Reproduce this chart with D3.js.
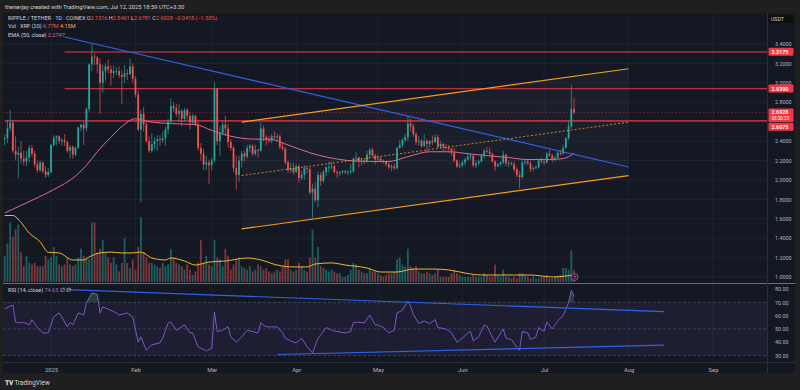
<!DOCTYPE html>
<html>
<head>
<meta charset="utf-8">
<script src="https://cdn.jsdelivr.net/npm/d3@7"></script>
<style>
  html, body { margin: 0; padding: 0; background: #1f1f1f; }
  svg { display: block; font-family: Roboto, "Liberation Sans", sans-serif; }
</style>
</head>
<body>
<svg id="chart" width="800" height="390"></svg>
<script>
// daily candles, XRP/USDT, first candle 2024-12-14
const startDay = "2024-12-14";

const opens = [
  2.40,2.42,2.43,2.53,2.59,2.30,2.26,2.28,2.22,2.19,2.23,2.33,2.27,2.16,2.10,2.18,2.09,2.05,
  2.08,2.36,2.43,2.45,2.40,2.41,2.39,2.30,2.34,2.26,2.33,2.54,2.57,2.53,2.73,3.19,3.27,3.26,3.19,3.00,3.12,3.17,3.14,3.10,3.12,3.12,3.08,3.06,3.10,3.09,3.17,
  3.04,2.88,2.52,2.68,2.57,2.40,2.30,2.37,2.40,2.42,2.41,2.43,2.52,2.60,2.76,2.74,2.68,2.71,2.63,2.72,2.66,2.59,2.66,2.57,2.33,2.27,2.16,2.18,
  2.15,2.20,2.94,2.40,2.48,2.57,2.53,2.39,2.33,2.12,2.05,2.20,2.27,2.24,2.33,2.35,2.27,2.31,2.30,2.53,2.44,2.41,2.40,2.45,2.44,2.45,2.34,2.32,2.18,2.10,2.12,
  2.08,2.14,2.02,2.05,2.12,2.11,1.87,1.91,1.79,2.05,1.99,2.08,2.13,2.13,2.14,2.08,2.07,2.08,2.09,2.08,2.08,2.09,2.22,2.23,2.19,2.20,2.19,2.26,2.31,2.25,
  2.21,2.22,2.20,2.19,2.16,2.13,2.14,2.12,2.33,2.36,2.41,2.44,2.58,2.55,2.47,2.39,2.40,2.35,2.40,2.37,2.40,2.39,2.44,2.34,2.37,2.34,2.33,2.32,2.28,2.20,2.14,
  2.15,2.18,2.21,2.24,2.25,2.15,2.17,2.19,2.25,2.30,2.29,2.27,2.19,2.14,2.16,2.18,2.26,2.17,2.17,2.16,2.11,2.05,2.03,2.18,2.19,2.17,2.11,2.12,2.13,2.20,
  2.19,2.18,2.27,2.25,2.21,2.23,2.28,2.27,2.33,2.43,2.55,2.7316
];
const highs = [
  2.47,2.47,2.62,2.72,2.62,2.45,2.34,2.40,2.30,2.30,2.36,2.36,2.30,2.20,2.20,2.19,2.14,2.12,
  2.37,2.46,2.46,2.46,2.43,2.47,2.40,2.36,2.36,2.35,2.55,2.58,2.60,2.75,3.20,3.40,3.30,3.28,3.25,3.19,3.20,3.24,3.18,3.18,3.16,3.17,3.13,3.18,3.14,3.25,3.20,
  3.07,2.92,2.72,2.75,2.60,2.45,2.48,2.44,2.46,2.46,2.50,2.55,2.63,2.84,2.80,2.78,2.78,2.73,2.74,2.74,2.70,2.68,2.67,2.60,2.38,2.32,2.25,2.21,
  2.23,3.01,2.95,2.55,2.60,2.66,2.58,2.42,2.35,2.25,2.25,2.30,2.30,2.36,2.37,2.37,2.36,2.32,2.59,2.56,2.46,2.45,2.47,2.50,2.48,2.47,2.39,2.34,2.20,2.18,2.18,
  2.16,2.16,2.09,2.15,2.14,2.13,1.96,1.98,2.08,2.08,2.10,2.14,2.19,2.19,2.16,2.10,2.09,2.10,2.10,2.10,2.16,2.23,2.29,2.24,2.23,2.22,2.30,2.33,2.33,2.27,
  2.25,2.24,2.21,2.20,2.18,2.16,2.17,2.34,2.41,2.43,2.48,2.66,2.63,2.58,2.49,2.45,2.42,2.47,2.42,2.41,2.46,2.47,2.47,2.40,2.38,2.37,2.36,2.33,2.33,2.21,2.18,
  2.20,2.23,2.28,2.27,2.26,2.20,2.21,2.27,2.32,2.34,2.33,2.28,2.20,2.18,2.19,2.30,2.27,2.20,2.19,2.19,2.13,2.09,2.20,2.21,2.21,2.19,2.14,2.15,2.22,2.23,
  2.21,2.29,2.31,2.27,2.25,2.30,2.31,2.36,2.44,2.61,2.98,2.8461
];
const lows = [
  2.33,2.36,2.38,2.50,2.28,2.20,2.02,2.17,2.15,2.14,2.18,2.24,2.13,2.07,2.08,2.07,2.02,2.03,
  2.07,2.34,2.36,2.37,2.35,2.35,2.28,2.22,2.22,2.24,2.32,2.50,2.36,2.50,2.70,3.12,3.18,3.10,2.68,2.90,3.02,3.10,2.97,3.05,3.08,3.05,2.78,3.00,3.03,3.08,3.00,
  2.85,2.50,1.77,2.50,2.38,2.28,2.28,2.32,2.30,2.35,2.38,2.35,2.47,2.58,2.70,2.65,2.60,2.55,2.60,2.62,2.52,2.57,2.55,2.30,2.20,2.10,2.10,1.96,
  2.10,2.18,2.36,2.25,2.46,2.46,2.33,2.30,2.08,1.90,1.98,2.13,2.19,2.22,2.29,2.25,2.25,2.23,2.29,2.40,2.36,2.38,2.38,2.42,2.40,2.32,2.30,2.16,2.07,2.07,2.05,
  2.07,1.97,2.00,2.00,2.07,1.85,1.61,1.77,1.72,1.94,1.97,2.04,2.08,2.11,2.07,2.02,2.04,2.06,2.06,2.05,2.06,2.07,2.18,2.13,2.15,2.16,2.18,2.22,2.24,2.16,
  2.19,2.18,2.17,2.14,2.11,2.09,2.10,2.11,2.32,2.33,2.39,2.40,2.50,2.44,2.36,2.35,2.33,2.34,2.28,2.33,2.36,2.38,2.33,2.32,2.29,2.30,2.28,2.25,2.18,2.12,2.12,
  2.13,2.15,2.20,2.21,2.13,2.12,2.15,2.18,2.22,2.27,2.25,2.18,2.09,2.13,2.14,2.16,2.14,2.13,2.15,2.08,2.03,1.91,2.01,2.15,2.15,2.08,2.09,2.11,2.12,2.17,
  2.15,2.17,2.24,2.18,2.19,2.22,2.25,2.26,2.32,2.41,2.53,2.6781
];
const closes = [
  2.42,2.43,2.53,2.59,2.30,2.26,2.28,2.22,2.19,2.23,2.33,2.27,2.16,2.10,2.18,2.09,2.05,2.08,
  2.36,2.43,2.45,2.40,2.41,2.39,2.30,2.34,2.26,2.33,2.54,2.57,2.53,2.73,3.19,3.27,3.26,3.19,3.00,3.12,3.17,3.14,3.10,3.12,3.12,3.08,3.06,3.10,3.09,3.17,3.04,
  2.88,2.52,2.68,2.57,2.40,2.30,2.37,2.40,2.42,2.41,2.43,2.52,2.60,2.76,2.74,2.68,2.71,2.63,2.72,2.66,2.59,2.66,2.57,2.33,2.27,2.16,2.18,2.15,
  2.20,2.94,2.40,2.48,2.57,2.53,2.39,2.33,2.12,2.05,2.20,2.27,2.24,2.33,2.35,2.27,2.31,2.30,2.53,2.44,2.41,2.40,2.45,2.44,2.45,2.34,2.32,2.18,2.10,2.12,2.08,
  2.14,2.02,2.05,2.12,2.11,1.87,1.91,1.79,2.05,1.99,2.08,2.13,2.13,2.14,2.08,2.07,2.08,2.09,2.08,2.08,2.09,2.22,2.23,2.19,2.20,2.19,2.26,2.31,2.25,2.21,
  2.22,2.20,2.19,2.16,2.13,2.14,2.12,2.33,2.36,2.41,2.44,2.58,2.55,2.47,2.39,2.40,2.35,2.40,2.37,2.40,2.39,2.44,2.34,2.37,2.34,2.33,2.32,2.28,2.20,2.14,2.15,
  2.18,2.21,2.24,2.25,2.15,2.17,2.19,2.25,2.30,2.29,2.27,2.19,2.14,2.16,2.18,2.26,2.17,2.17,2.16,2.11,2.05,2.03,2.18,2.19,2.17,2.11,2.12,2.13,2.20,2.19,
  2.18,2.27,2.25,2.21,2.23,2.28,2.27,2.33,2.43,2.55,2.7316,2.6928
];
// volume, millions of XRP
const volumes = [
  15,15,22,34,26,30,33,17,9,15,11,10,11,9,9,9,15,13,
  14,20,15,10,9,10,14,10,9,10,14,19,15,14,13,34,34,17,19,24,17,14,11,14,10,6,11,25,11,8,13,
  7,20,37,17,14,11,11,10,9,8,11,9,10,19,14,11,10,9,7,10,7,4,6,11,24,11,15,10,
  9,24,14,13,9,19,15,7,10,13,14,9,8,7,9,6,7,10,9,7,8,6,5,6,7,6,9,13,13,7,6,
  7,11,9,7,6,14,30,14,20,9,8,7,6,7,6,5,5,3,3,4,7,11,10,7,6,5,5,8,6,6,
  5,4,3,4,5,5,6,13,14,10,9,19,9,8,9,6,5,5,6,5,4,5,7,3,3,3,3,5,7,5,4,
  3,3,3,3,4,3,3,3,5,4,3,3,10,4,3,7,3,3,2,3,2,5,5,4,3,2,3,2,2,3,
  3,4,2,2,3,3,4,8,8,7,18,6.77
];

const emaDates = ["2024-12-15","2024-12-25","2025-01-02","2025-01-10","2025-01-14","2025-01-18","2025-01-23","2025-01-27",
  "2025-02-01","2025-02-06","2025-02-14","2025-02-23","2025-03-01","2025-03-08","2025-03-17","2025-03-22","2025-03-29",
  "2025-04-06","2025-04-13","2025-04-20","2025-04-28","2025-05-05","2025-05-12","2025-05-20","2025-05-27","2025-06-03",
  "2025-06-10","2025-06-18","2025-06-25","2025-07-03","2025-07-08","2025-07-12"];
const emaValues = [1.66,1.79,1.90,2.04,2.15,2.29,2.44,2.55,2.63,2.60,2.58,2.57,2.51,2.45,2.42,2.42,2.36,
  2.28,2.23,2.20,2.19,2.19,2.24,2.29,2.29,2.27,2.25,2.23,2.21,2.21,2.22,2.2747];

const volMaDates = ["2024-12-15","2024-12-18","2024-12-21","2024-12-24","2024-12-28","2024-12-31","2025-01-04","2025-01-09",
  "2025-01-13","2025-01-15","2025-01-19","2025-01-23","2025-01-27","2025-01-31","2025-02-03","2025-02-07","2025-02-12",
  "2025-02-14","2025-02-19","2025-02-23","2025-02-28","2025-03-06","2025-03-14","2025-03-19","2025-03-25","2025-03-31",
  "2025-04-05","2025-04-08","2025-04-14","2025-04-19","2025-04-27","2025-05-02","2025-05-08","2025-05-14","2025-05-21",
  "2025-05-27","2025-06-02","2025-06-08","2025-06-14","2025-06-20","2025-06-26","2025-07-04","2025-07-09","2025-07-12"];
const volMaValues = [38,38,34,28,23,17,16.6,12.6,12.6,14.3,16.6,17.1,16.6,16.6,17.1,13.7,12.6,
  13.7,12,9.7,11.4,12,13.7,12.6,9.7,8.6,8.6,10.3,10.9,9.7,8,5.7,5.7,7.4,7.4,
  6.9,5.1,4,4,4,4,2.9,3.4,4.15];

const rsiDates = ["2024-12-15","2024-12-18","2024-12-19","2024-12-21","2024-12-22","2024-12-24","2024-12-25","2024-12-27","2024-12-29","2024-12-31",
  "2025-01-02","2025-01-04","2025-01-05","2025-01-07","2025-01-08","2025-01-09","2025-01-11","2025-01-13","2025-01-14","2025-01-16","2025-01-18",
  "2025-01-19","2025-01-20","2025-01-23","2025-01-25","2025-01-26","2025-01-29","2025-01-31","2025-02-02","2025-02-03","2025-02-05","2025-02-07",
  "2025-02-10","2025-02-11","2025-02-13","2025-02-14","2025-02-16","2025-02-19","2025-02-21","2025-02-22","2025-02-24","2025-02-25","2025-02-27",
  "2025-03-01","2025-03-02","2025-03-03","2025-03-05","2025-03-07","2025-03-08","2025-03-10","2025-03-12","2025-03-14","2025-03-16","2025-03-18",
  "2025-03-19","2025-03-21","2025-03-23","2025-03-25","2025-03-27","2025-03-28","2025-03-31","2025-04-01","2025-04-03","2025-04-05","2025-04-07",
  "2025-04-09","2025-04-10","2025-04-12","2025-04-14","2025-04-16","2025-04-19","2025-04-21","2025-04-22","2025-04-24","2025-04-26","2025-04-28",
  "2025-04-30","2025-05-01","2025-05-03","2025-05-05","2025-05-07","2025-05-08","2025-05-10","2025-05-12","2025-05-13","2025-05-14","2025-05-16",
  "2025-05-18","2025-05-20","2025-05-22","2025-05-23","2025-05-26","2025-05-28","2025-05-30","2025-06-01","2025-06-03","2025-06-04","2025-06-05",
  "2025-06-07","2025-06-09","2025-06-10","2025-06-12","2025-06-13","2025-06-16","2025-06-17","2025-06-19","2025-06-21","2025-06-22","2025-06-23",
  "2025-06-25","2025-06-26","2025-06-28","2025-06-29","2025-07-01","2025-07-02","2025-07-04","2025-07-06","2025-07-08","2025-07-09","2025-07-10",
  "2025-07-11","2025-07-12"];
const rsiValues = [65,68,55,54.5,55,53,57,51,47,47,
  59,62,59,51.5,55,53,62,60.5,69.5,77,76,
  62,66.5,64,62,60.5,62,59,40,44,34,38,
  39.5,43,54.5,55,49,53,47,47,36.5,35.5,33.5,
  35.5,62.5,48,49,51.5,44,40,44,49,48,47,
  54.5,51.5,51.5,51.5,47,43,40,39.5,43,36.5,32,
  43,45.5,51,49,48,47,48,55,55,54.5,60.5,
  53,53,51,47,49,62,64,71,67,61,54,
  56,54,57,51,50,47,40,43,47,48,41,
  44,53,52,44,40,50,43,42,36,34,48,
  47,42,44,51,48,55,50,56,60,65,70,
  79,74.65];

const priceTicks = [1.0,1.2,1.4,1.6,1.8,2.0,2.2,2.4,2.6,2.8,3.0,3.2,3.4];
const hiddenPriceTicks = [2.6]; // covered by the price labels in the reference
const rsiTicks = [30,40,50,60,70,80];
const monthTicks = ["2025-01-01","2025-02-01","2025-03-01","2025-04-01","2025-05-01","2025-06-01","2025-07-01","2025-08-01","2025-09-01"];

// horizontal levels and trend lines (drawings on the chart)
const levels = [
  {price: 3.3175, from: "2025-01-06"},
  {price: 2.9390, from: "2025-01-06"},
  {price: 2.6075, from: "2024-12-15"}
];
const blueLine = [["2025-01-06", 3.472], ["2025-08-01", 2.133]];
const channelTop = [["2025-03-12", 2.595], ["2025-08-01", 3.145]];
const channelMid = [["2025-03-12", 2.045], ["2025-08-01", 2.595]];
const channelBottom = [["2025-03-12", 1.495], ["2025-08-01", 2.045]];
const rsiUpper = [["2025-01-07", 79.5], ["2025-08-14", 63]];
const rsiLower = [["2025-03-25", 30.8], ["2025-08-14", 37.8]];

const lastPrice = 2.6928;

// ---------------------------------------------------------------
const parse = d3.utcParse("%Y-%m-%d");
const t0 = parse(startDay);
const days = d3.utcDay.range(t0, d3.utcDay.offset(t0, closes.length));
const candles = days.map((d, i) => ({date: d, o: opens[i], h: highs[i], l: lows[i], c: closes[i], v: volumes[i]}));

const svg = d3.select("#chart");
const left = 3, right = 795, plotRight = 767;
const mainTop = 13, mainBottom = 283, rsiTop = 284, rsiBottom = 362, bottom = 373;

const x = d3.scaleUtc().domain([parse("2025-01-01"), parse("2025-09-01")]).range([51, 713]);
const y = d3.scaleLinear().domain([1.0, 3.4]).range([277, 44]);
const yVol = d3.scaleLinear().domain([0, 40]).range([282, 212]);
const yRsi = d3.scaleLinear().domain([30, 80]).range([355.5, 289]);

const up = "#26a69a", down = "#ef5350";

// frame
svg.append("rect").attr("x", 0).attr("y", 0).attr("width", 800).attr("height", 390).attr("fill", "#1f1f1f");
svg.append("rect").attr("x", left).attr("y", mainTop).attr("width", right - left).attr("height", bottom - mainTop)
  .attr("fill", "#141823");

const defs = svg.append("defs");
defs.append("clipPath").attr("id", "clipMain").append("rect")
  .attr("x", left).attr("y", mainTop).attr("width", plotRight - left).attr("height", mainBottom - mainTop);
defs.append("clipPath").attr("id", "clipRsi").append("rect")
  .attr("x", left).attr("y", rsiTop).attr("width", plotRight - left).attr("height", rsiBottom - rsiTop);
defs.append("clipPath").attr("id", "clipOB").append("rect")
  .attr("x", left).attr("y", rsiTop).attr("width", plotRight - left).attr("height", yRsi(70) - rsiTop);

// grid
const grid = svg.append("g").attr("stroke", "#1e2230").attr("stroke-width", 1);
grid.selectAll("line.v").data(monthTicks).join("line")
  .attr("x1", d => x(parse(d))).attr("x2", d => x(parse(d)))
  .attr("y1", mainTop).attr("y2", rsiBottom);
grid.selectAll("line.h").data(priceTicks).join("line")
  .attr("x1", left).attr("x2", plotRight).attr("y1", d => y(d)).attr("y2", d => y(d));

const main = svg.append("g").attr("clip-path", "url(#clipMain)");

// channel background
const chPoly = [channelTop[0], channelTop[1], channelBottom[1], channelBottom[0]];
main.append("path")
  .attr("d", "M" + chPoly.map(p => [x(parse(p[0])), y(p[1])].join(",")).join("L") + "Z")
  .attr("fill", "rgba(150,150,180,0.06)");

// volume
main.append("g").selectAll("rect").data(candles).join("rect")
  .attr("x", d => x(d.date) - 0.9).attr("width", 1.8)
  .attr("y", d => yVol(d.v)).attr("height", d => yVol(0) - yVol(d.v))
  .attr("fill", d => d.c >= d.o ? "rgba(38,166,154,0.5)" : "rgba(239,83,80,0.5)");

const volMaLine = d3.line().x((d, i) => x(parse(volMaDates[i]))).y(d => yVol(d)).curve(d3.curveMonotoneX);
main.append("path").datum(volMaValues).attr("d", volMaLine)
  .attr("fill", "none").attr("stroke", "#f2b632").attr("stroke-width", 1);

// levels
main.selectAll("line.level").data(levels).join("line")
  .attr("x1", d => x(parse(d.from))).attr("x2", plotRight)
  .attr("y1", d => y(d.price)).attr("y2", d => y(d.price))
  .attr("stroke", "#f23645").attr("stroke-width", 1.2);
main.append("line").attr("x1", left).attr("x2", plotRight).attr("y1", y(lastPrice)).attr("y2", y(lastPrice))
  .attr("stroke", "#f23645").attr("stroke-opacity", 0.55).attr("stroke-width", 0.8).attr("stroke-dasharray", "1.5,2");

// EMA
const emaLine = d3.line().x((d, i) => x(parse(emaDates[i]))).y(d => y(d)).curve(d3.curveMonotoneX);
main.append("path").datum(emaValues).attr("d", emaLine)
  .attr("fill", "none").attr("stroke", "#e0699c").attr("stroke-width", 1);

// candles
const cg = main.append("g");
cg.selectAll("line").data(candles).join("line")
  .attr("x1", d => x(d.date)).attr("x2", d => x(d.date))
  .attr("y1", d => y(d.h)).attr("y2", d => y(d.l))
  .attr("stroke", d => d.c >= d.o ? up : down).attr("stroke-width", 0.7);
cg.selectAll("rect").data(candles).join("rect")
  .attr("x", d => x(d.date) - 0.9).attr("width", 1.8)
  .attr("y", d => y(Math.max(d.o, d.c)))
  .attr("height", d => Math.max(0.7, Math.abs(y(d.o) - y(d.c))))
  .attr("fill", d => d.c >= d.o ? up : down);

// trend lines
const seg = (g, pts, sc, color, dash, w) => g.append("line")
  .attr("x1", x(parse(pts[0][0]))).attr("y1", sc(pts[0][1]))
  .attr("x2", x(parse(pts[1][0]))).attr("y2", sc(pts[1][1]))
  .attr("stroke", color).attr("stroke-width", w).attr("stroke-dasharray", dash);
seg(main, blueLine, y, "#2f62e8", null, 1.2);
seg(main, channelTop, y, "#f39c1f", null, 1.2);
seg(main, channelBottom, y, "#f39c1f", null, 1.2);
seg(main, channelMid, y, "#f39c1f", "2,2", 0.8);

// little alert icon on volume
main.append("circle").attr("cx", x(days[days.length - 1]) + 0.5).attr("cy", 277).attr("r", 3.5)
  .attr("fill", "#2b1f3b").attr("stroke", "#b84ac8").attr("stroke-width", 0.8);
main.append("text").attr("x", x(days[days.length - 1]) + 0.5).attr("y", 279).attr("text-anchor", "middle")
  .attr("font-size", 5).attr("fill", "#e05a8a").text("ϟ");

// pane separator
svg.append("line").attr("x1", left).attr("x2", right).attr("y1", mainBottom + 0.5).attr("y2", mainBottom + 0.5)
  .attr("stroke", "#6a6d78").attr("stroke-width", 1.2);

// RSI pane
const rsiG = svg.append("g").attr("clip-path", "url(#clipRsi)");
rsiG.append("rect").attr("x", left).attr("width", plotRight - left)
  .attr("y", yRsi(70)).attr("height", yRsi(30) - yRsi(70)).attr("fill", "rgba(126,87,194,0.1)");
rsiG.selectAll("line.lvl").data([70, 50, 30]).join("line")
  .attr("x1", left).attr("x2", plotRight).attr("y1", d => yRsi(d)).attr("y2", d => yRsi(d))
  .attr("stroke", "#787b86").attr("stroke-opacity", 0.6).attr("stroke-width", 0.6).attr("stroke-dasharray", "3,2");
const rsiArea = d3.area().x((d, i) => x(parse(rsiDates[i]))).y0(yRsi(70)).y1(d => yRsi(d));
rsiG.append("path").datum(rsiValues).attr("d", rsiArea).attr("clip-path", "url(#clipOB)")
  .attr("fill", "rgba(46,125,80,0.45)");
const rsiLine = d3.line().x((d, i) => x(parse(rsiDates[i]))).y(d => yRsi(d));
rsiG.append("path").datum(rsiValues).attr("d", rsiLine)
  .attr("fill", "none").attr("stroke", "#7e57c2").attr("stroke-width", 1);
seg(rsiG, rsiUpper, yRsi, "#2f62e8", null, 1.1);
seg(rsiG, rsiLower, yRsi, "#2f62e8", null, 1.1);

// time axis
svg.append("line").attr("x1", left).attr("x2", right).attr("y1", rsiBottom + 0.5).attr("y2", rsiBottom + 0.5)
  .attr("stroke", "#2a2e39");
const xAxis = d3.axisBottom(x).tickValues(monthTicks.map(parse)).tickSize(0)
  .tickFormat(d => d.getUTCMonth() === 0 ? "2025" : d3.utcFormat("%b")(d));
svg.append("g").attr("transform", `translate(0,${rsiBottom + 3})`).call(xAxis)
  .call(g => g.select(".domain").remove())
  .selectAll("text").attr("fill", "#b2b5be").attr("font-size", 5.8).attr("font-family", "Roboto, sans-serif");

// price axis
svg.append("line").attr("x1", plotRight + 0.5).attr("x2", plotRight + 0.5).attr("y1", mainTop).attr("y2", bottom)
  .attr("stroke", "#2a2e39");
const yAxis = d3.axisRight(y).tickValues(priceTicks.filter(t => !hiddenPriceTicks.includes(t)))
  .tickSize(0).tickFormat(d3.format(".4f"));
svg.append("g").attr("transform", `translate(${plotRight + 5},0)`).call(yAxis)
  .call(g => g.select(".domain").remove())
  .selectAll("text").attr("fill", "#b2b5be").attr("font-size", 5.4).attr("font-family", "Roboto, sans-serif");
const rAxis = d3.axisRight(yRsi).tickValues(rsiTicks).tickSize(0).tickFormat(d3.format(".2f"));
svg.append("g").attr("transform", `translate(${plotRight + 5},0)`).call(rAxis)
  .call(g => g.select(".domain").remove())
  .selectAll("text").attr("fill", "#b2b5be").attr("font-size", 5.4).attr("font-family", "Roboto, sans-serif");

// price labels on axis
const axisLabels = [
  {v: 3.3175, lines: ["3.3175"]},
  {v: 2.9390, lines: ["2.9390"]},
  {v: lastPrice, lines: ["2.6928", "08:30:22"]},
  {v: 2.6075, lines: ["2.6075"]}
];
let prevBottom = -Infinity;
axisLabels.forEach(l => {
  const h = l.lines.length * 5.6 + 2.4;
  let top = y(l.v) - 4.2;
  if (top < prevBottom + 0.8) top = prevBottom + 0.8;
  prevBottom = top + h;
  svg.append("rect").attr("x", plotRight + 1.5).attr("y", top).attr("width", 25).attr("height", h)
    .attr("rx", 1).attr("fill", "#f23645");
  l.lines.forEach((s, k) => svg.append("text").attr("x", plotRight + 4.5).attr("y", top + 6 + k * 5.4)
    .attr("font-size", k ? 4.6 : 5.4).attr("font-weight", k ? 400 : 600)
    .attr("fill", "#ffffff").text(s));
});

// USDT box
svg.append("rect").attr("x", plotRight + 1.5).attr("y", 15).attr("width", 25).attr("height", 8).attr("rx", 1)
  .attr("fill", "#0e0e0e");
svg.append("text").attr("x", plotRight + 4).attr("y", 21).attr("font-size", 5.2).attr("fill", "#d1d4dc").text("USDT");

// header + legends
svg.append("text").attr("x", 5).attr("y", 8.5).attr("font-size", 5.8).attr("fill", "#d1d4dc")
  .text("thenerjay created with TradingView.com, Jul 12, 2025 18:59 UTC+3:30");

const leg1 = svg.append("text").attr("x", 8).attr("y", 19.5).attr("font-size", 5.5).attr("fill", "#d1d4dc");
leg1.append("tspan").text("RIPPLE / TETHER · 1D · COINEX  ");
leg1.append("tspan").attr("fill", "#d1d4dc").text("O");
leg1.append("tspan").attr("fill", down).text("2.7316 ");
leg1.append("tspan").text("H");
leg1.append("tspan").attr("fill", down).text("2.8461 ");
leg1.append("tspan").text("L");
leg1.append("tspan").attr("fill", down).text("2.6781 ");
leg1.append("tspan").text("C");
leg1.append("tspan").attr("fill", down).text("2.6928  −0.0418 (−1.53%)");

const leg2 = svg.append("text").attr("x", 8).attr("y", 28).attr("font-size", 5.5).attr("fill", "#d1d4dc");
leg2.append("tspan").text("Vol · XRP (20)  ");
leg2.append("tspan").attr("fill", down).text("6.77M  ");
leg2.append("tspan").attr("fill", "#f2b632").text("4.15M");

const leg3 = svg.append("text").attr("x", 8).attr("y", 36.5).attr("font-size", 5.5).attr("fill", "#d1d4dc");
leg3.append("tspan").text("EMA (50, close)  ");
leg3.append("tspan").attr("fill", "#e0699c").text("2.2747");

const leg4 = svg.append("text").attr("x", 8).attr("y", rsiTop + 7.5).attr("font-size", 5.5).attr("fill", "#d1d4dc");
leg4.append("tspan").text("RSI (14, close)  ");
leg4.append("tspan").attr("fill", "#9575cd").text("74.65  ");
leg4.append("tspan").attr("fill", "#d1d4dc").text("∅  ∅");

// footer logo
svg.append("text").attr("x", 5).attr("y", 385).attr("font-size", 6.5).attr("font-weight", 700)
  .attr("fill", "#d1d4dc").text("𝐓𝐕");
svg.append("text").attr("x", 14.5).attr("y", 385).attr("font-size", 6.4).attr("fill", "#d1d4dc").text("TradingView");
</script>
</body>
</html>
